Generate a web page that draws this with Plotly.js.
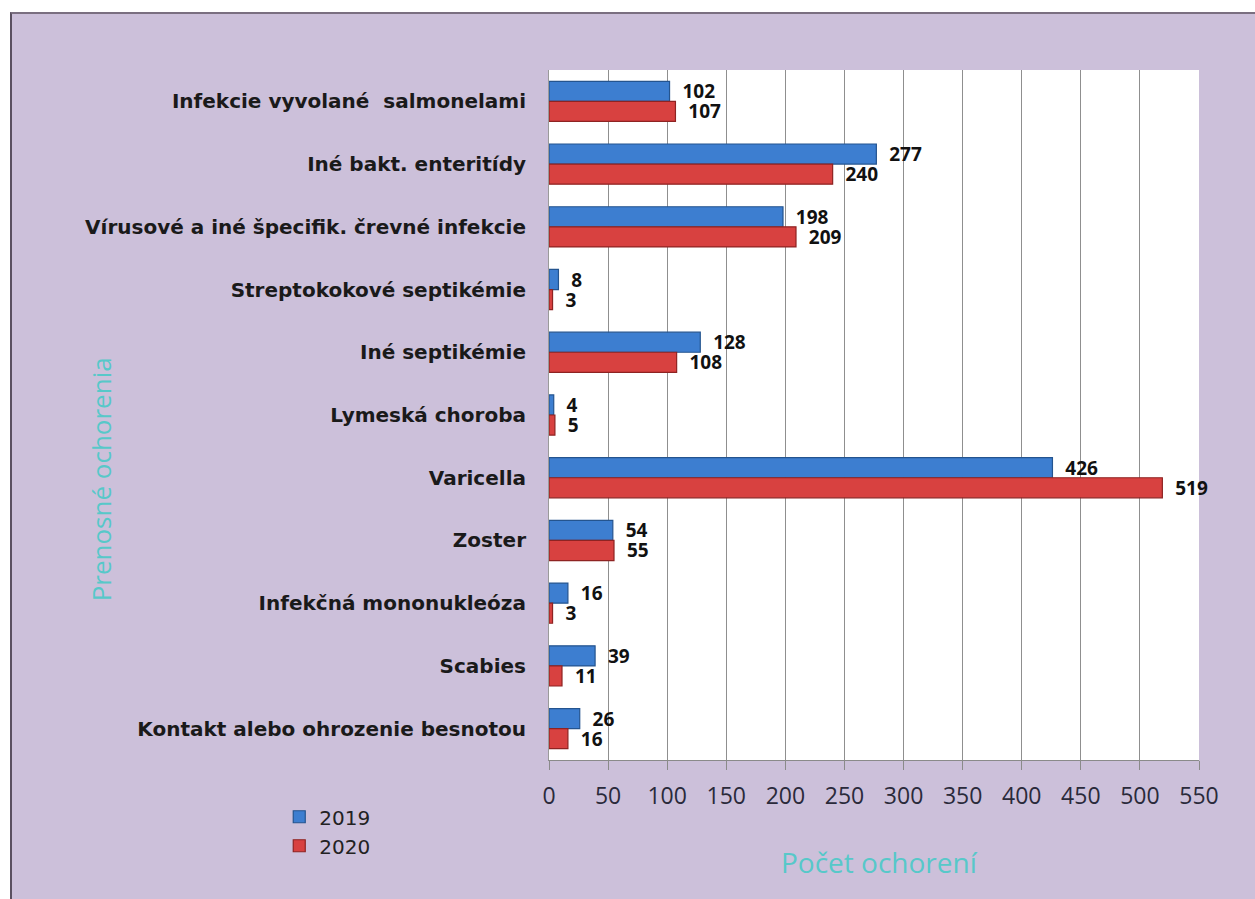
<!DOCTYPE html>
<html>
<head>
<meta charset="utf-8">
<script src="https://cdn.plot.ly/plotly-3.0.1.min.js"></script>
<style>
html,body{margin:0;padding:0;background:#ffffff;width:1255px;height:899px;overflow:hidden;}
#frame{position:absolute;left:10px;top:12px;width:1245px;height:887px;border-left:2px solid #5a5060;border-top:2px solid #7a6f80;box-sizing:border-box;background:#CCC0DA;}
#chart{width:1243px;height:885px;}
</style>
</head>
<body>
<div id="frame"><div id="chart"></div></div>
<script>
const categories = [
  "Infekcie vyvolané  salmonelami",
  "Iné bakt. enteritídy",
  "Vírusové a iné špecifik. črevné infekcie",
  "Streptokokové septikémie",
  "Iné septikémie",
  "Lymeská choroba",
  "Varicella",
  "Zoster",
  "Infekčná mononukleóza",
  "Scabies",
  "Kontakt alebo ohrozenie besnotou"
];
const values2019 = [102, 277, 198, 8, 128, 4, 426, 54, 16, 39, 26];
const values2020 = [107, 240, 209, 3, 108, 5, 519, 55, 3, 11, 16];
const seriesNames = ["2019", "2020"];
const xTicks = [0, 50, 100, 150, 200, 250, 300, 350, 400, 450, 500, 550];
const xTitle = "Počet ochorení";
const yTitle = "Prenosné ochorenia";

const labelFont = {family: "Open Sans", size: 19, color: "#111111", weight: 700};

const traces = [
  {
    type: "bar", orientation: "h", name: seriesNames[0],
    y: categories, x: values2019,
    marker: {color: "#3D7ED0", line: {color: "#24548F", width: 1.2}},
    text: values2019, texttemplate: "  %{x}", textposition: "outside",
    textfont: labelFont, constraintext: "none", cliponaxis: false,
    hoverinfo: "x+y+name"
  },
  {
    type: "bar", orientation: "h", name: seriesNames[1],
    y: categories, x: values2020,
    marker: {color: "#D84140", line: {color: "#8E2322", width: 1.2}},
    text: values2020, texttemplate: "  %{x}", textposition: "outside",
    textfont: labelFont, constraintext: "none", cliponaxis: false,
    hoverinfo: "x+y+name"
  }
];

const layout = {
  width: 1243, height: 885,
  paper_bgcolor: "#CCC0DA",
  plot_bgcolor: "#FFFFFF",
  margin: {l: 537, r: 56, t: 56, b: 139, pad: 0},
  barmode: "group",
  bargap: 0.36,
  bargroupgap: 0,
  showlegend: true,
  legend: {
    x: -0.415, y: -0.054, xanchor: "left", yanchor: "top",
    bgcolor: "rgba(0,0,0,0)",
    font: {family: "DejaVu Sans", size: 20, color: "#222222"},
    itemwidth: 30, tracegroupgap: 0
  },
  xaxis: {
    range: [0, 550],
    tickvals: xTicks,
    ticktext: xTicks.map(String),
    showgrid: true, gridcolor: "#8f8f8f", gridwidth: 1,
    zeroline: false,
    showline: true, linecolor: "#8a8a8a", linewidth: 1,
    ticks: "outside", ticklen: 9, tickcolor: "#8a8a8a",
    ticklabelstandoff: 6,
    tickfont: {family: "Open Sans", size: 23, color: "#2a2a3a"},
    fixedrange: true
  },
  yaxis: {
    type: "category",
    autorange: "reversed",
    showgrid: false, zeroline: false,
    showline: true, linecolor: "#9a9a9a", linewidth: 1,
    ticks: "", ticklabelstandoff: 18,
    tickfont: {family: "DejaVu Sans", size: 20, color: "#1a1a1a", weight: 700},
    fixedrange: true
  },
  annotations: [
    {text: xTitle, xref: "paper", yref: "paper", x: 0.509, y: -0.148,
     xanchor: "center", yanchor: "middle", showarrow: false,
     font: {family: "Open Sans", size: 28, color: "#57C8C9"}},
    {text: yTitle, xref: "paper", yref: "paper", x: -0.69, y: 0.406,
     xanchor: "center", yanchor: "middle", showarrow: false, textangle: -90,
     font: {family: "Open Sans", size: 26, color: "#57C8C9"}}
  ]
};

Plotly.newPlot("chart", traces, layout, {displayModeBar: false, staticPlot: true});
</script>
</body>
</html>
